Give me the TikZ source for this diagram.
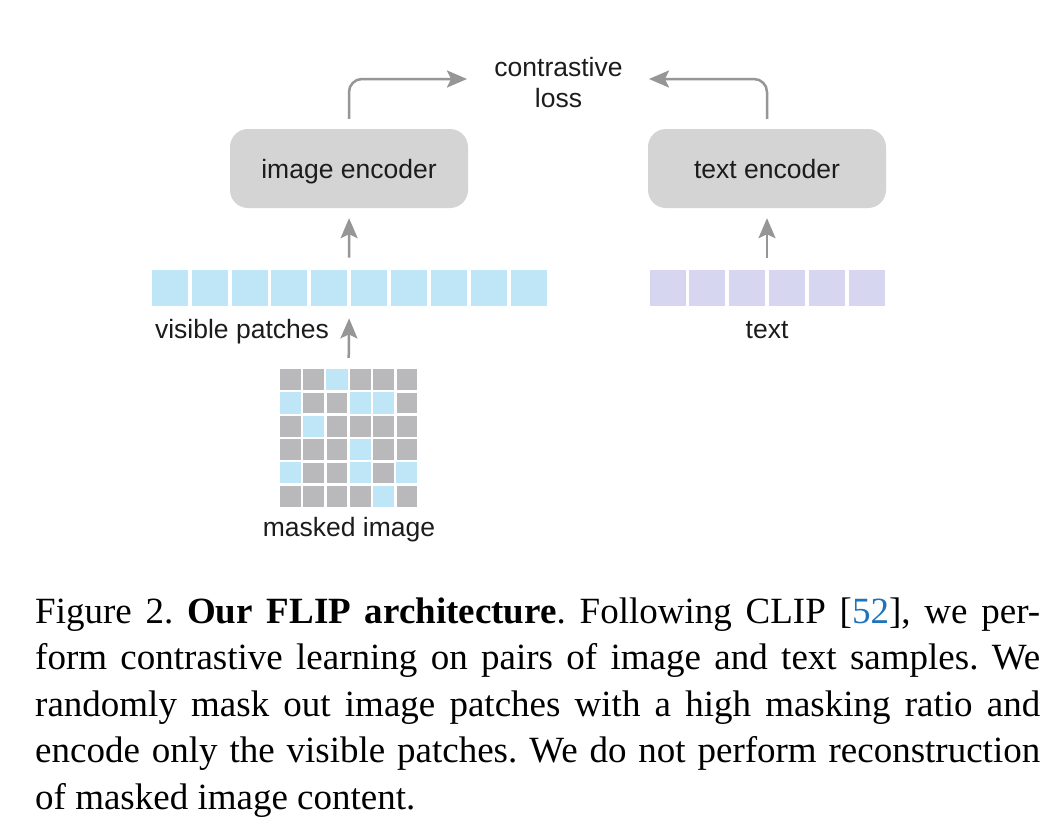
\documentclass[tikz,border=0pt]{standalone}
\usepackage{fontspec}
\setmainfont{Liberation Serif}
\newfontfamily\figsans{Liberation Sans}
\usetikzlibrary{arrows.meta,fit}
\definecolor{arrgray}{RGB}{150,150,150}
\definecolor{boxgray}{RGB}{212,212,212}
\definecolor{patchblue}{RGB}{190,230,246}
\definecolor{patchlav}{RGB}{214,214,240}
\definecolor{cellgray}{RGB}{185,185,188}
\definecolor{txtdark}{RGB}{28,28,28}
\definecolor{citeblue}{RGB}{30,115,185}
\frenchspacing
\begin{document}
\begin{tikzpicture}[x=1pt,y=-1pt,
  lbl/.style={font=\figsans\fontsize{26.5}{31}\selectfont, text=txtdark, inner sep=0pt},
  encbox/.style={lbl, fill=boxgray, rounded corners=18pt, minimum width=238pt, minimum height=79pt, text height=19pt, text depth=0pt},
  vpatch/.style={fill=patchblue, minimum size=36pt, inner sep=0pt},
  tpatch/.style={fill=patchlav, minimum size=36pt, inner sep=0pt},
  gcell/.style={fill=cellgray, minimum size=20.7pt, inner sep=0pt},
  arr/.style={draw=arrgray, line width=2.5pt, -{Stealth[length=20pt,width=17pt,inset=4pt]}},
  capline/.style={anchor=base west, inner sep=0pt, font=\fontsize{37}{47}\selectfont, text=black}
]
\fill[white] (0,0) rectangle (1061,839);
\useasboundingbox (0,0) rectangle (1061,839);

% encoders
\node[encbox] (imgenc) at (349,168.5) {image encoder};
\node[encbox] (txtenc) at (767,168.5) {text encoder};

% contrastive loss
\node[lbl, align=center, anchor=base] (loss) at (558.5,107) {contrastive\\loss};
\coordinate (lossL) at (467,79);
\coordinate (lossR) at (649,79);

% visible patches
\foreach \i in {0,...,9} \node[vpatch] (vp\i) at ({169.7+\i*39.9},288) {};
\node[fit=(vp0)(vp9), inner sep=0pt] (vis) {};
\node[lbl, anchor=base] (vislbl) at (242,338) {visible patches};

% text patches
\foreach \i in {0,...,5} \node[tpatch] (tp\i) at ({767-2.5*39.8+\i*39.8},288) {};
\node[fit=(tp0)(tp5), inner sep=0pt] (txt) {};
\node[lbl, anchor=base] (txtlbl) at (767,338) {text};

% masked image grid
\foreach \r in {0,...,5}
  \foreach \c in {0,...,5}
    \node[gcell] (g\r\c) at ({290.35+\c*23.3},{379.65+\r*23.3}) {};
\foreach \r/\c in {0/2,1/0,1/3,1/4,2/1,3/3,4/0,4/3,4/5,5/4}
  \fill[patchblue] (g\r\c.south west) rectangle (g\r\c.north east);
\node[fit=(g00)(g55), inner sep=0pt] (grid) {};
\node[lbl, anchor=base] (masklbl) at (349,536) {masked image};

% arrows
\draw[arr, shorten <=11pt, shorten >=12pt] (grid.north) -- (vis.south);
\draw[arr, shorten <=12pt, shorten >=10pt] (vis.north) -- (imgenc.south);
\draw[arr, shorten <=12pt, shorten >=10pt] (txt.north) -- (txtenc.south);
\draw[arr, rounded corners=13pt] ([yshift=10pt]imgenc.north) |- (lossL);
\draw[arr, rounded corners=13pt] ([yshift=10pt]txtenc.north) |- (lossR);

% caption
\node[capline] (cap1) at (35,623) {\makebox[1005pt][s]{Figure 2. \textbf{Our FLIP architecture}. Following CLIP [\textcolor{citeblue}{52}], we per-}};
\node[capline] (cap2) at (35,669.6) {\makebox[1005pt][s]{form contrastive learning on pairs of image and text samples. We}};
\node[capline] (cap3) at (35,716.2) {\makebox[1005pt][s]{randomly mask out image patches with a high masking ratio and}};
\node[capline] (cap4) at (35,762.8) {\makebox[1005pt][s]{encode only the visible patches. We do not perform reconstruction}};
\node[capline] (cap5) at (35,809.4) {of masked image content.};
\end{tikzpicture}
\end{document}
